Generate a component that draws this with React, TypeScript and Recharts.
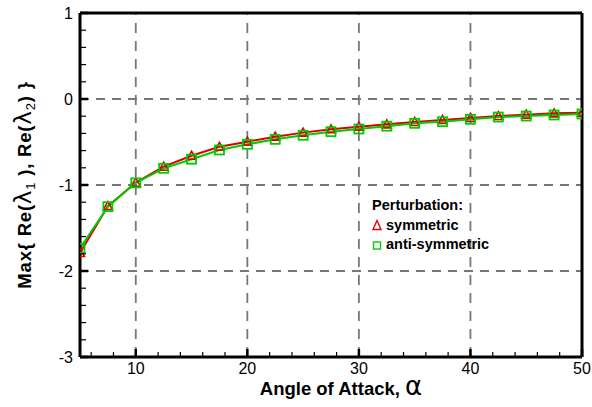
import React from "react";
import { LineChart, Line, XAxis, YAxis, ReferenceLine } from "recharts";

document.body.style.margin = "0";

const ALPHA = [5, 7.5, 10, 12.5, 15, 17.5, 20, 22.5, 25, 27.5, 30, 32.5, 35, 37.5, 40, 42.5, 45, 47.5, 50];
const SYMMETRIC = [-1.79, -1.245, -0.973, -0.787, -0.66, -0.556, -0.496, -0.438, -0.391, -0.352, -0.322, -0.295, -0.267, -0.244, -0.221, -0.198, -0.182, -0.167, -0.159];
const ANTI_SYMMETRIC = [-1.736, -1.252, -0.975, -0.806, -0.7, -0.593, -0.527, -0.469, -0.422, -0.38, -0.349, -0.316, -0.283, -0.264, -0.236, -0.21, -0.198, -0.186, -0.174];

const X_TICKS = [6, 8, 10, 12, 14, 16, 18, 20, 22, 24, 26, 28, 30, 32, 34, 36, 38, 40, 42, 44, 46, 48, 50];
const X_LABELS = [10, 20, 30, 40, 50];
const Y_TICKS = [-3, -2.8, -2.6, -2.4, -2.2, -2, -1.8, -1.6, -1.4, -1.2, -1, -0.8, -0.6, -0.4, -0.2, 0, 0.2, 0.4, 0.6, 0.8, 1];
const Y_LABELS = [-3, -2, -1, 0, 1];
const GRID_X = [10, 20, 30, 40];
const GRID_Y = [0, -1, -2];

const FONT = "'Liberation Sans', Arial, Helvetica, sans-serif";
const RED = "#dd0000";
const GREEN = "#00cc00";

const data = ALPHA.map((a, i) => ({ alpha: a, sym: SYMMETRIC[i], anti: ANTI_SYMMETRIC[i] }));

const isMajor = (v: number, list: number[]) => list.some((m) => Math.abs(m - v) < 1e-6);

function XTick(props: any) {
  const { x, y, payload } = props;
  const major = isMajor(payload.value, X_LABELS);
  return (
    <g>
      <line x1={x} x2={x} y1={y} y2={y - (major ? 8 : 5)} stroke="#000" strokeWidth={major ? 2.5 : 1.2} />
      {major && (
        <text x={x} y={y + 17} textAnchor="middle" fontSize={16} fontFamily={FONT} fill="#000">
          {payload.value}
        </text>
      )}
    </g>
  );
}

function YTick(props: any) {
  const { x, y, payload } = props;
  const major = isMajor(payload.value, Y_LABELS);
  return (
    <g>
      <line x1={x} x2={x + (major ? 8 : 6)} y1={y} y2={y} stroke="#000" strokeWidth={major ? 2.5 : 1.2} />
      {major && (
        <text x={x - 7} y={y + 6} textAnchor="end" fontSize={16} fontFamily={FONT} fill="#000">
          {payload.value}
        </text>
      )}
    </g>
  );
}

function Triangle(props: any) {
  const { cx, cy } = props;
  if (cx == null || cy == null) return null;
  return (
    <path d={`M${cx},${cy - 4.5} L${cx + 4.5},${cy + 3.5} L${cx - 4.5},${cy + 3.5} Z`} fill="none" stroke={RED} strokeWidth={1.6} />
  );
}

function Square(props: any) {
  const { cx, cy } = props;
  if (cx == null || cy == null) return null;
  return <rect x={cx - 4.5} y={cy - 4.5} width={9} height={9} fill="none" stroke={GREEN} strokeWidth={1.8} />;
}

function XTitle(props: any) {
  const { viewBox } = props;
  return (
    <text x={341} y={viewBox.y + 38} textAnchor="middle" fontSize={18.5} fontWeight="bold" fontFamily={FONT} fill="#000">
      Angle of Attack,{" "}
      <tspan fontWeight="normal" fontSize={26} fontFamily="'DejaVu Sans', sans-serif">
        α
      </tspan>
    </text>
  );
}

function YTitle(props: any) {
  const { viewBox } = props;
  const cy = viewBox.y + viewBox.height / 2;
  return (
    <text
      x={0}
      y={0}
      transform={`translate(31, ${cy}) rotate(-90)`}
      textAnchor="middle"
      fontSize={18.5}
      fontWeight="bold"
      fontFamily={FONT}
      letterSpacing={0.8}
      fill="#000"
    >
      Max{"{"} Re(
      <tspan fontWeight="normal" fontSize={23} fontFamily="'DejaVu Sans', sans-serif">λ</tspan>
      <tspan fontWeight="normal" fontSize={13} dy={4}>1</tspan>
      <tspan dy={-4}> ), Re(</tspan>
      <tspan fontWeight="normal" fontSize={23} fontFamily="'DejaVu Sans', sans-serif">λ</tspan>
      <tspan fontWeight="normal" fontSize={13} dy={4}>2</tspan>
      <tspan dy={-4}>) {"}"}</tspan>
    </text>
  );
}

export default function App() {
  return (
    <div style={{ position: "relative", width: 592, height: 407, background: "#fff" }}>
      <LineChart width={592} height={407} data={data} margin={{ top: 13, right: 10, bottom: 0, left: 30 }}>
        {GRID_X.map((g) => (
          <ReferenceLine key={"gx" + g} x={g} stroke="#777" strokeWidth={1.8} strokeDasharray="10 8" />
        ))}
        {GRID_Y.map((g) => (
          <ReferenceLine key={"gy" + g} y={g} stroke="#777" strokeWidth={1.8} strokeDasharray="9 7" />
        ))}
        <XAxis
          type="number"
          dataKey="alpha"
          domain={[5, 50]}
          ticks={X_TICKS}
          interval={0}
          tickSize={0}
          tickMargin={0}
          tickLine={false}
          tick={<XTick />}
          axisLine={{ stroke: "#000", strokeWidth: 3 }}
          height={50}
          allowDataOverflow
          label={<XTitle />}
        />
        <YAxis
          type="number"
          domain={[-3, 1]}
          ticks={Y_TICKS}
          interval={0}
          tickSize={0}
          tickMargin={0}
          tickLine={false}
          tick={<YTick />}
          axisLine={{ stroke: "#000", strokeWidth: 3 }}
          width={50}
          allowDataOverflow
          label={<YTitle />}
        />
        <ReferenceLine y={1} stroke="#000" strokeWidth={3} />
        <ReferenceLine x={50} stroke="#000" strokeWidth={3} />
        <Line
          dataKey="sym"
          stroke={RED}
          strokeWidth={2}
          dot={<Triangle />}
          activeDot={false}
          isAnimationActive={false}
          type="linear"
        />
        <Line
          dataKey="anti"
          stroke={GREEN}
          strokeWidth={2}
          dot={<Square />}
          activeDot={false}
          isAnimationActive={false}
          type="linear"
        />
      </LineChart>
      <div style={{ position: "absolute", left: 372, top: 196, fontFamily: FONT, fontWeight: "bold", fontSize: 14.5, lineHeight: "19.5px", color: "#000" }}>
        <div>Perturbation:</div>
        <div style={{ display: "flex", alignItems: "center" }}>
          <svg width={14} height={12}>
            <path d="M5,1.5 L9,10.5 L1,10.5 Z" fill="none" stroke={RED} strokeWidth={1.4} />
          </svg>
          <span>symmetric</span>
        </div>
        <div style={{ display: "flex", alignItems: "center" }}>
          <svg width={14} height={12}>
            <rect x={1.5} y={3} width={7} height={7} fill="none" stroke={GREEN} strokeWidth={1.4} />
          </svg>
          <span>anti-symmetric</span>
        </div>
      </div>
    </div>
  );
}
